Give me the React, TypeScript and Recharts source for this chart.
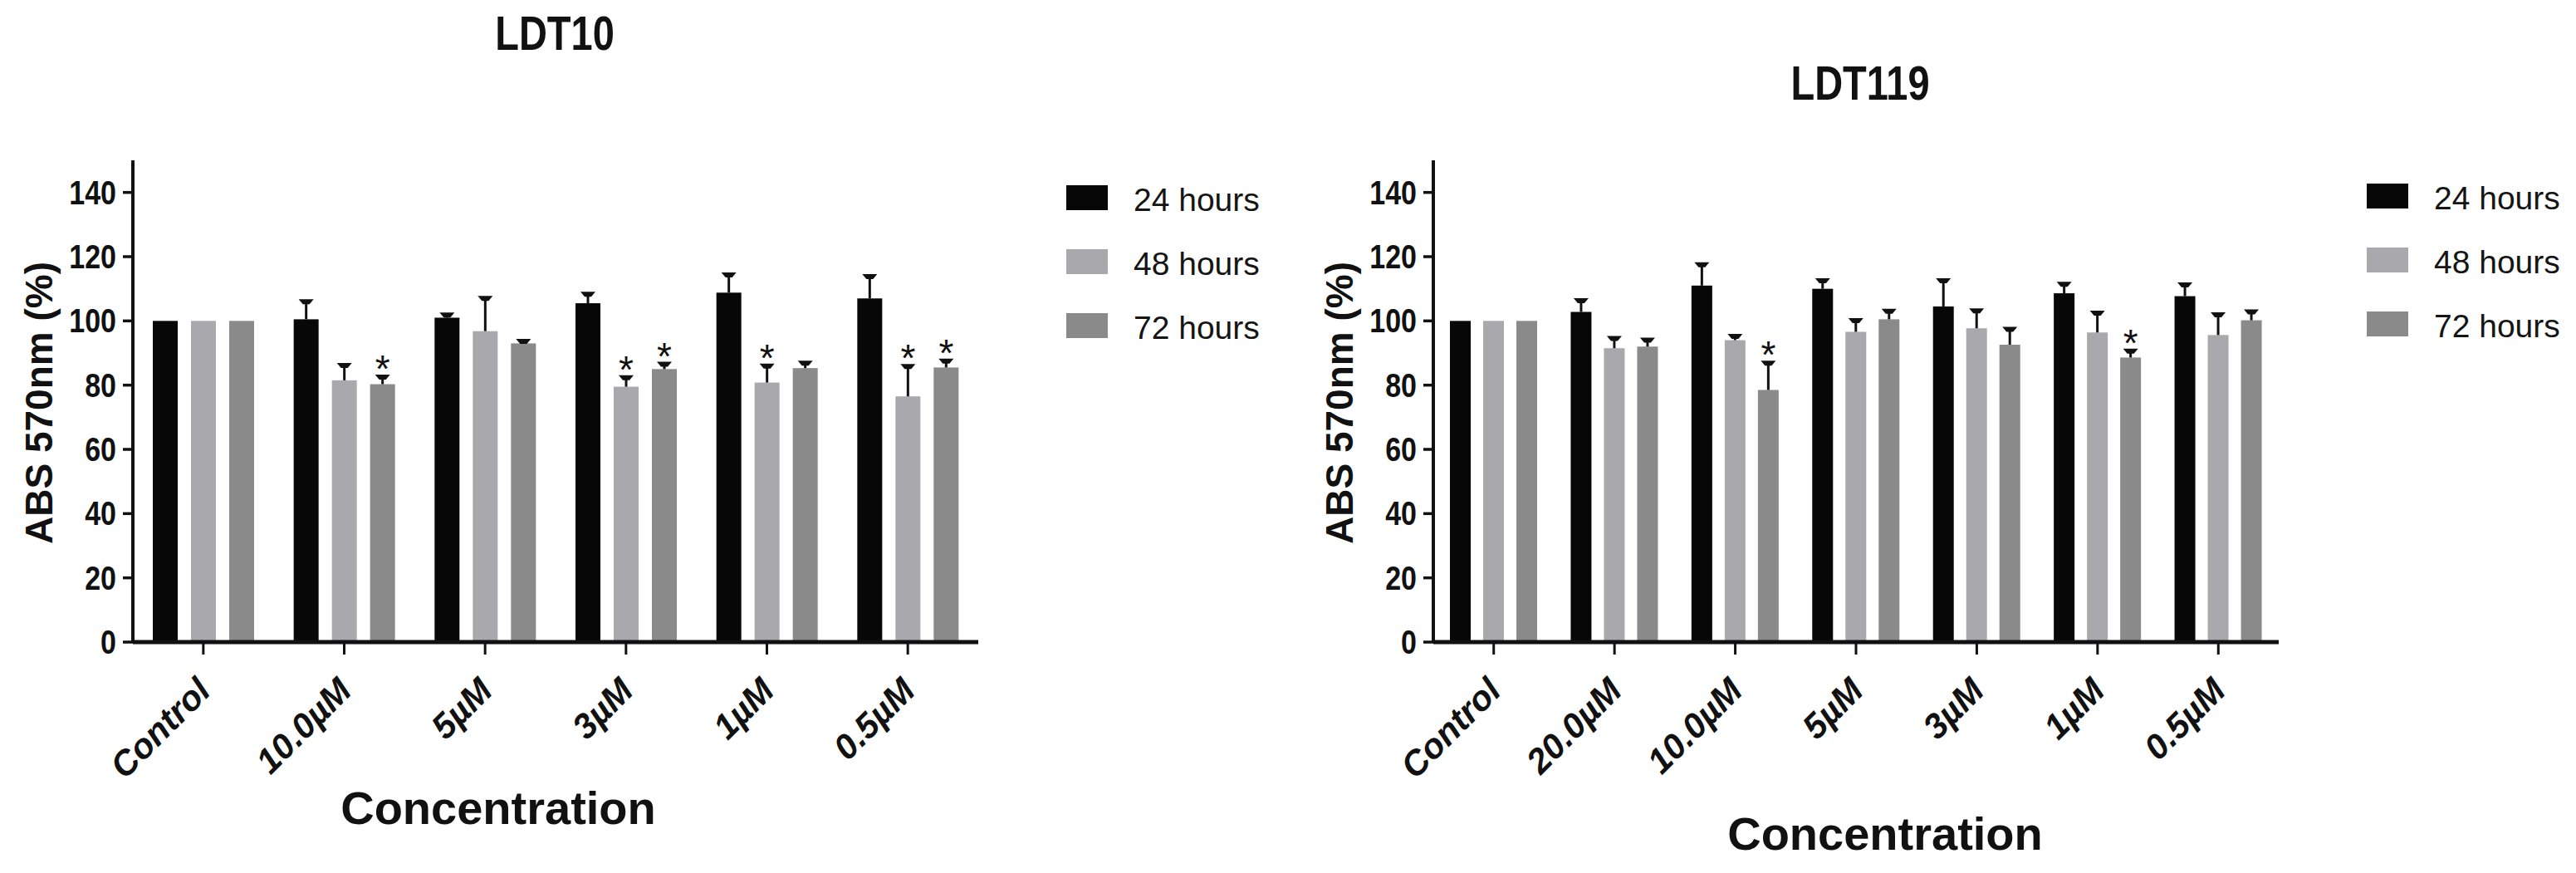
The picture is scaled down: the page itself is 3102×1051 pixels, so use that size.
import React from 'react';
import { BarChart, Bar, XAxis, YAxis, Label } from 'recharts';

const FONT = '"Liberation Sans", Arial, Helvetica, sans-serif';

// ---- shared ----
const seriesNames = ['24 hours', '48 hours', '72 hours'];
const seriesColors = ['#070707', '#a9a9ad', '#8a8a8a'];
const yTicks = [0, 20, 40, 60, 80, 100, 120, 140];
const yAxisTitle = 'ABS 570nm (%)';
const xAxisTitle = 'Concentration';

// ---- LDT10 ----
const ldt10Title = 'LDT10';
const ldt10Categories = ['Control', '10.0µM', '5µM', '3µM', '1µM', '0.5µM'];
const ldt10H24 = [100, 100.5, 101, 105.5, 108.8, 107];
const ldt10H48 = [100, 81.5, 96.8, 79.5, 80.8, 76.5];
const ldt10H72 = [100, 80.3, 93, 85, 85.3, 85.5];
const ldt10Err24 = [0, 5.5, 0.8, 2.8, 5.5, 6.8];
const ldt10Err48 = [0, 4.6, 10.2, 2.8, 5.1, 9.3];
const ldt10Err72 = [0, 2.2, 0.6, 1.5, 1.5, 2];
const ldt10Sig48 = [false, false, false, true, true, true];
const ldt10Sig72 = [false, true, false, true, false, true];

// ---- LDT119 ----
const ldt119Title = 'LDT119';
const ldt119Categories = ['Control', '20.0µM', '10.0µM', '5µM', '3µM', '1µM', '0.5µM'];
const ldt119H24 = [100, 102.8, 111, 110, 104.5, 108.6, 107.7];
const ldt119H48 = [100, 91.5, 94, 96.6, 97.7, 96.4, 95.6];
const ldt119H72 = [100, 92, 78.5, 100.5, 92.6, 88.6, 100.2];
const ldt119Err24 = [0, 3.5, 6.5, 2.5, 8, 2.8, 3.5];
const ldt119Err48 = [0, 3, 1.2, 3.5, 5.4, 6, 6.3];
const ldt119Err72 = [0, 2, 8.3, 2.5, 4.8, 2, 2.6];
const ldt119Sig48 = [false, false, false, false, false, false, false];
const ldt119Sig72 = [false, false, true, false, false, true, false];

function buildRows(cats, h24, h48, h72, e24, e48, e72, s48, s72) {
  return cats.map((c, i) => ({
    cat: c,
    h24: h24[i], h48: h48[i], h72: h72[i],
    e24: e24[i], e48: e48[i], e72: e72[i],
    s24: false, s48: s48[i], s72: s72[i],
  }));
}

const ldt10Data = buildRows(ldt10Categories, ldt10H24, ldt10H48, ldt10H72, ldt10Err24, ldt10Err48, ldt10Err72, ldt10Sig48, ldt10Sig72);
const ldt119Data = buildRows(ldt119Categories, ldt119H24, ldt119H48, ldt119H72, ldt119Err24, ldt119Err48, ldt119Err72, ldt119Sig48, ldt119Sig72);

function makeShape(valKey: string, errKey: string, sigKey: string) {
  return (props: any) => {
    const { x, y, width, height, fill, payload } = props;
    const val = payload[valKey];
    const err = payload[errKey] || 0;
    const k = val ? height / val : 0;
    const cx = x + width / 2;
    const top = y - err * k;
    return (
      <g>
        <rect x={x} y={y} width={width} height={height} fill={fill} />
        {err > 0 && (
          <g>
            <line x1={cx} x2={cx} y1={y} y2={top} stroke="#111" strokeWidth={3} />
            <path d={`M${cx - 9},${top - 3} L${cx + 9},${top - 3} L${cx + 4},${top + 3} L${cx - 4},${top + 3} Z`} fill="#111" />
          </g>
        )}
        {payload[sigKey] && (
          <text x={cx} y={top - 21 + 27} textAnchor="middle" fontSize={46} fontFamily={FONT} fill="#111">*</text>
        )}
      </g>
    );
  };
}

const YTick = (p: any) => (
  <g transform={`translate(${p.x},${p.y})`}>
    <text transform="scale(0.85,1)" textAnchor="end" dominantBaseline="central" fontSize={40} fontWeight="bold" fontFamily={FONT} fill="#111">
      {p.payload.value}
    </text>
  </g>
);

const XTick = (p: any) => (
  <g transform={`translate(${p.x + 11},${p.y + 44})`}>
    <text transform="rotate(-45)" textAnchor="end" fontSize={42} fontWeight="bold" fontStyle="italic" fontFamily={FONT} fill="#111">
      {p.payload.value}
    </text>
  </g>
);

function Panel({ data, width, margin, catGap, barGap, xTitleDx, xTitleDy }: any) {
  const keys = [['h24', 'e24', 's24'], ['h48', 'e48', 's48'], ['h72', 'e72', 's72']];
  return (
    <BarChart width={width} height={1051} data={data} margin={margin} barCategoryGap={catGap} barGap={barGap}>
      <XAxis
        dataKey="cat"
        interval={0}
        height={100}
        tick={(p: any) => <XTick {...p} />}
        tickSize={15}
        tickLine={{ stroke: '#111', strokeWidth: 3 }}
        axisLine={{ stroke: '#111', strokeWidth: 5 }}
      >
        <Label
          content={(lp: any) => {
            const vb = lp.viewBox || { x: 0, y: 0 };
            return (
              <text x={vb.x + xTitleDx} y={vb.y + xTitleDy} textAnchor="middle" fontSize={56} fontWeight="bold" fontFamily={FONT} fill="#111">
                {xAxisTitle}
              </text>
            );
          }}
        />
      </XAxis>
      <YAxis
        domain={[0, 150]}
        ticks={yTicks}
        width={60}
        tick={(p: any) => <YTick {...p} />}
        tickSize={12}
        tickMargin={8}
        tickLine={{ stroke: '#111', strokeWidth: 3.5 }}
        axisLine={{ stroke: '#111', strokeWidth: 4 }}
      >
        <Label
          content={(lp: any) => {
            const vb = lp.viewBox || { x: 0, y: 0, width: 0, height: 0 };
            const cx = vb.x + vb.width - 113;
            const cy = vb.y + vb.height / 2 + 2;
            return (
              <text transform={`translate(${cx},${cy}) rotate(-90)`} textAnchor="middle" dominantBaseline="central" fontSize={46} fontWeight="bold" fontFamily={FONT} fill="#111">
                {yAxisTitle}
              </text>
            );
          }}
        />
      </YAxis>
      {keys.map((kk, i) => (
        <Bar key={kk[0]} dataKey={kk[0]} name={seriesNames[i]} fill={seriesColors[i]} isAnimationActive={false} shape={makeShape(kk[0], kk[1], kk[2])} />
      ))}
    </BarChart>
  );
}

function LegendBlock({ x, y }: any) {
  return (
    <g>
      {seriesNames.map((n, i) => (
        <g key={n}>
          <rect x={x} y={y + i * 77} width={50} height={30} fill={seriesColors[i]} />
          <text x={x + 81} y={y + i * 77 + 31} fontSize={39} fontFamily={FONT} fill="#151515">{n}</text>
        </g>
      ))}
    </g>
  );
}

export default function App() {
  return (
    <div style={{ position: 'absolute', left: 0, top: 0, width: 3102, height: 1051, background: '#fff', overflow: 'hidden', fontFamily: FONT }}>
      <div style={{ position: 'absolute', left: 0, top: 0 }}>
        <Panel
          data={ldt10Data}
          width={1550}
          margin={{ top: 193, right: 372, bottom: 178, left: 100 }}
          catGap={24}
          barGap={16}
          xTitleDx={440}
          xTitleDy={219}
        />
      </div>
      <div style={{ position: 'absolute', left: 1550, top: 0 }}>
        <Panel
          data={ldt119Data}
          width={1552}
          margin={{ top: 193, right: 358, bottom: 178, left: 116 }}
          catGap={20}
          barGap={15}
          xTitleDx={544}
          xTitleDy={250}
        />
      </div>
      <svg width={3102} height={1051} style={{ position: 'absolute', left: 0, top: 0, pointerEvents: 'none' }}>
        <text transform="translate(668,60) scale(0.81,1)" textAnchor="middle" fontSize={58} fontWeight="bold" fontFamily={FONT} fill="#111">{ldt10Title}</text>
        <text transform="translate(2240,120) scale(0.81,1)" textAnchor="middle" fontSize={58} fontWeight="bold" fontFamily={FONT} fill="#111">{ldt119Title}</text>
        <LegendBlock x={1284} y={223} />
        <LegendBlock x={2850} y={221} />
      </svg>
    </div>
  );
}
